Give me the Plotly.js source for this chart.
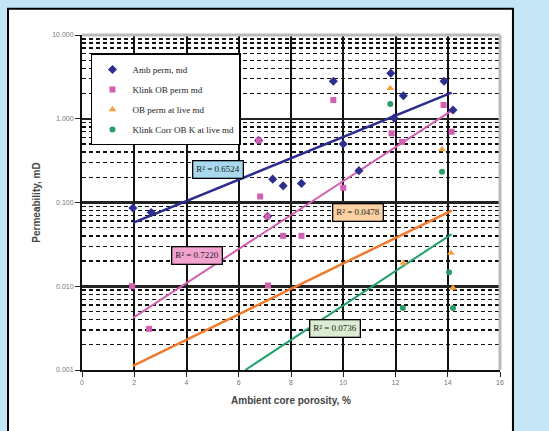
<!DOCTYPE html>
<html>
<head>
<meta charset="utf-8">
<script src="https://cdn.plot.ly/plotly-3.0.1.min.js"></script>
<style>html,body{margin:0;padding:0;background:#c4e5f6;}#chart{width:549px;height:431px;}</style>
</head>
<body>
<div id="chart"></div>
<script>
// Series names
const seriesNames = ["Amb perm, md", "Klink OB perm md", "OB perm at live md", "Klink Corr OB K at live md"];

// Amb perm (blue diamonds)
const ambX = [1.95, 2.65, 6.76, 7.1, 7.3, 7.7, 8.4, 9.62, 10.0, 10.6, 11.82, 11.94, 12.3, 13.86, 14.2];
const ambY = [0.086, 0.076, 0.55, 0.068, 0.19, 0.158, 0.169, 2.8, 0.5, 0.24, 3.5, 1.02, 1.88, 2.8, 1.27];

// Klink OB perm (pink squares)
const klinkX = [1.92, 2.57, 6.76, 6.82, 7.1, 7.12, 7.7, 8.4, 9.62, 10.0, 11.85, 12.25, 13.84, 14.15];
const klinkY = [0.01, 0.0031, 0.55, 0.118, 0.068, 0.0102, 0.04, 0.04, 1.67, 0.15, 0.67, 0.53, 1.46, 0.7];

// OB perm at live (orange triangles)
const obLiveX = [11.8, 12.3, 13.78, 14.12, 14.2];
const obLiveY = [2.31, 0.019, 0.43, 0.025, 0.0095];

// Klink Corr OB K at live (green circles)
const corrX = [11.8, 12.28, 13.78, 14.05, 14.2];
const corrY = [1.5, 0.0055, 0.233, 0.0147, 0.0055];

// Trendline end points
const ambTrendX = [1.95, 14.15];
const ambTrendY = [0.057, 2.05];
const klinkTrendX = [1.95, 14.15];
const klinkTrendY = [0.0042, 1.25];
const obLiveTrendX = [1.95, 14.15];
const obLiveTrendY = [0.00112, 0.08];
const corrTrendX = [6.25, 14.15];
const corrTrendY = [0.001, 0.042];

// R² labels
const r2Texts = ["R² = 0.6524", "R² = 0.7220", "R² = 0.0478", "R² = 0.0736"];

// Axis ticks
const yTickVals = [0.001, 0.01, 0.1, 1, 10];
const yTickText = ["0.001", "0.010", "0.100", "1.000", "10.000"];

const cBlue = "#2e2e8e", cPink = "#d35fb0", cOrange = "#f28a30", cGreen = "#2a9d64";

const minorVals = [];
for (let e = -3; e < 1; e++) { for (let k = 2; k <= 9; k++) { minorVals.push(k * Math.pow(10, e)); } }

const traces = [
  {x: ambTrendX, y: ambTrendY, mode: "lines", line: {color: "#2b2b90", width: 2.5}, showlegend: false, hoverinfo: "skip"},
  {x: klinkTrendX, y: klinkTrendY, mode: "lines", line: {color: cPink, width: 2}, showlegend: false, hoverinfo: "skip"},
  {x: obLiveTrendX, y: obLiveTrendY, mode: "lines", line: {color: "#f07a2c", width: 2.5}, showlegend: false, hoverinfo: "skip"},
  {x: corrTrendX, y: corrTrendY, mode: "lines", line: {color: "#22a06a", width: 2}, showlegend: false, hoverinfo: "skip"},
  {x: ambX, y: ambY, name: seriesNames[0], mode: "markers", marker: {symbol: "diamond", size: 7, color: cBlue}, legendgroup: "a"},
  {x: klinkX, y: klinkY, name: seriesNames[1], mode: "markers", marker: {symbol: "square", size: 6, color: cPink}, legendgroup: "b"},
  {x: obLiveX, y: obLiveY, name: seriesNames[2], mode: "markers", marker: {symbol: "triangle-up", size: 7, color: "#f5a13e"}, legendgroup: "c"},
  {x: corrX, y: corrY, name: seriesNames[3], mode: "markers", marker: {symbol: "circle", size: 6, color: cGreen}, legendgroup: "d"}
];

const annBase = {xref: "paper", yref: "paper", showarrow: false, bordercolor: "#000", borderwidth: 1.3, borderpad: 3,
  font: {family: "Liberation Serif", size: 9, color: "#222"}};

const layout = {
  width: 549, height: 431,
  paper_bgcolor: "#c4e5f6", plot_bgcolor: "#ffffff",
  margin: {l: 82, r: 49, t: 35, b: 61},
  showlegend: true,
  legend: {x: 0.0215, y: 0.945, xanchor: "left", yanchor: "top", bgcolor: "#ffffff", bordercolor: "#000", borderwidth: 1.5,
    font: {family: "Liberation Serif", size: 9, color: "#222"}, traceorder: "grouped", tracegroupgap: 1, itemwidth: 30},
  xaxis: {range: [0, 16], dtick: 2, tick0: 0, showgrid: true, gridcolor: "#111", gridwidth: 2,
    ticks: "outside", ticklen: 5, tickcolor: "#222", showline: true, linecolor: "#111", linewidth: 2, zeroline: false,
    tickfont: {family: "Liberation Sans", size: 7, color: "#777"},
    title: {text: "<b>Ambient core porosity, %</b>", font: {family: "Liberation Sans", size: 10, color: "#444"}, standoff: 12}},
  yaxis: {type: "log", range: [-3, 1], tickvals: yTickVals, ticktext: yTickText, showgrid: true, gridcolor: "#222", gridwidth: 2.5,
    ticks: "outside", ticklen: 5, tickcolor: "#222", showline: true, linecolor: "#111", linewidth: 2, zeroline: false,
    tickfont: {family: "Liberation Sans", size: 7, color: "#777"},
    minor: {tickmode: "array", tickvals: minorVals, showgrid: true, gridcolor: "#111", gridwidth: 1.4, griddash: "4px,3px", ticks: ""},
    title: {text: "<b>Permeability, mD</b>", font: {family: "Liberation Sans", size: 10, color: "#444"}, standoff: 10}},
  shapes: [
    {type: "rect", xref: "paper", yref: "paper", x0: -0.177, x1: 1.031, y0: -0.4, y1: 1.078,
      fillcolor: "#ffffff", line: {color: "#000", width: 2}, layer: "below"},
    {type: "line", xref: "paper", yref: "paper", x0: 0, x1: 1, y0: 1, y1: 1, line: {color: "#bbb", width: 3}, layer: "above"},
    {type: "line", xref: "paper", yref: "paper", x0: 1, x1: 1, y0: 0, y1: 1, line: {color: "#bbb", width: 3}, layer: "above"}
  ],
  annotations: [
    Object.assign({}, annBase, {x: 0.262, y: 0.599, text: r2Texts[0], bgcolor: "#a9d9ef"}),
    Object.assign({}, annBase, {x: 0.2125, y: 0.341, text: r2Texts[1], bgcolor: "#f2a3d0"}),
    Object.assign({}, annBase, {x: 0.7225, y: 0.469, text: r2Texts[2], bgcolor: "#fcd2a4"}),
    Object.assign({}, annBase, {x: 0.667, y: 0.0946, text: r2Texts[3], bgcolor: "#dcecd2"})
  ]
};

Plotly.newPlot("chart", traces, layout, {displayModeBar: false, staticPlot: true});
</script>
</body>
</html>
